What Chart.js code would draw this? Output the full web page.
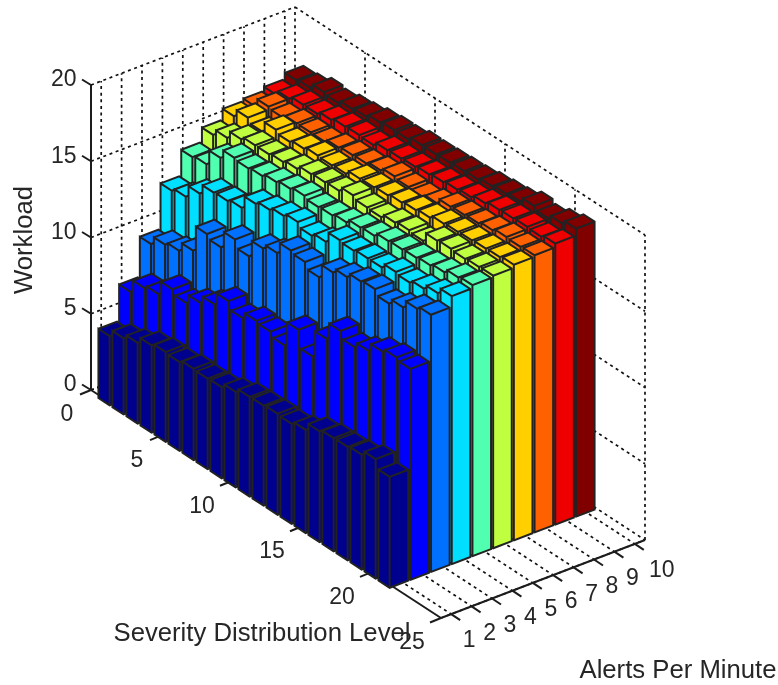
<!DOCTYPE html>
<html><head><meta charset="utf-8">
<style>html,body{margin:0;padding:0;background:#fff}canvas{display:block}</style>
<script src="https://cdn.jsdelivr.net/npm/chart.js@4"></script>
</head><body><canvas id="c" width="778" height="685"></canvas>
<script>
const alertTicks = [1,2,3,4,5,6,7,8,9,10];
const severityTicks = [0,5,10,15,20,25];
const workloadTicks = [0,5,10,15,20];
const severityLevels = [1,2,3,4,5,6,7,8,9,10,11,12,13,14,15,16,17,18,19,20,21];
const alerts1  = [4.5,4.95,5.24,5.67,5.83,5.77,5.93,5.88,5.92,6.2,6.47,6.5,6.56,6.5,6.7,7.2,7.35,7.37,7.46,7.76,7.2];
const alerts2  = [6.86,7.7,7.9,8.8,8.5,9.1,9.6,10.4,9.9,10.3,10.2,9.9,11.5,10.37,12.1,13.2,12.75,13.1,13.64,13.85,13.7];
const alerts3  = [9.45,10,10.2,10.8,12.47,12.2,13.3,12.8,13.9,14.2,14.95,14.8,14.4,15.3,15.6,15.9,16,15.65,16,16.5,16.7];
const alerts4  = [12.4,12.6,13.4,14.05,14.1,14.25,15.1,15.3,15.5,15.7,15.4,15.6,16.3,16.2,16.3,16.3,16.6,16.5,16.7,17,17.4];
const alerts5  = [14.07,14.2,15.2,15.8,15.7,15.8,16,16.15,16.3,16.15,16.2,16.35,16.6,16.66,16.9,16.95,17,17.1,17.25,17.5,17.6];
const alerts6  = [15,15.4,15.9,16.1,16.1,16.2,16.35,16.6,16.66,16.7,17,16.8,16.76,17,17.1,17,17.6,17.67,17.6,17.67,17.7];
const alerts7  = [15.7,16.2,15.9,16.6,16.4,16.55,16.7,16.65,16.7,16.97,17,17.07,17.2,17.3,17.4,17.6,17.66,17.7,17.76,17.8,17.9];
const alerts8  = [15.85,16.4,16.3,16.5,16.5,16.5,16.7,16.8,16.85,17,17.2,17.1,17.05,17.25,17.6,17.65,17.7,17.85,18,17.95,18];
const alerts9  = [16.1,16.4,16.6,16.6,16.8,16.95,17,16.95,17.2,17.25,17.3,17.4,17.5,17.6,17.7,17.9,18.06,18.1,18.15,18.1,18.25];
const alerts10 = [16.5,16.6,16.9,16.8,17,17.1,17.3,17.4,17.4,17.6,17.6,17.65,17.7,17.75,17.9,18,18.1,18.4,18.2,18.46,18.7];
const columns = [alerts1,alerts2,alerts3,alerts4,alerts5,alerts6,alerts7,alerts8,alerts9,alerts10];
const jetColors = ['#00008f','#0000ff','#0070ff','#00dfff','#50ffaf','#bfff40','#ffcf00','#ff6000','#ef0000','#800000'];

const xLim=[0.5,10.5], yLim=[0,25], zLim=[0,20];
const axisFrame={o:{x:91,y:390}, xV:{x:204,y:-78}, yV:{x:350,y:228}, zV:{x:0,y:-305}};
const barFrame={o:{x:89,y:393}, xV:{x:207,y:-79}, yV:{x:350,y:228}, zV:{x:0,y:-308}};
const barX=0.9, barY=0.8, edge='#222222', textCol='#262626';
function project(f,x,y,z){
  const a=(x-xLim[0])/(xLim[1]-xLim[0]), b=(y-yLim[0])/(yLim[1]-yLim[0]), c=(z-zLim[0])/(zLim[1]-zLim[0]);
  return {x:f.o.x+a*f.xV.x+b*f.yV.x+c*f.zV.x, y:f.o.y+a*f.xV.y+b*f.yV.y+c*f.zV.y};
}
const P=(x,y,z)=>project(axisFrame,x,y,z), B=(x,y,z)=>project(barFrame,x,y,z);
const datasets=[];
function seg(pts,opts){datasets.push(Object.assign({data:pts,showLine:true,pointRadius:0,borderWidth:1,borderColor:'#000',fill:false,tension:0,clip:false,spanGaps:true},opts));}
const dash={borderDash:[3,3.6],borderWidth:1.7,borderColor:'#111'};
// grid
alertTicks.forEach(k=>{seg([P(k,yLim[0],0),P(k,yLim[0],20),],dash);seg([P(k,0,0),P(k,25,0)],dash);});
severityTicks.forEach(k=>{seg([P(xLim[1],k,0),P(xLim[1],k,20)],dash);seg([P(xLim[0],k,0),P(xLim[1],k,0)],dash);});
workloadTicks.forEach(k=>{seg([P(xLim[0],0,k),P(xLim[1],0,k)],dash);seg([P(xLim[1],0,k),P(xLim[1],25,k)],dash);});
// axes
const axis={borderWidth:2,borderColor:'#1c1c1c'};
seg([P(xLim[0],0,0),P(xLim[0],0,20)],axis);
seg([P(xLim[0],0,0),P(xLim[0],25,0)],axis);
seg([P(xLim[0],25,0),P(xLim[1],25,0)],axis);
workloadTicks.forEach(k=>{const p=P(xLim[0],0,k);seg([p,{x:p.x-9,y:p.y-5.5}],axis);});
severityTicks.forEach(k=>{const p=P(xLim[0],k,0);seg([p,{x:p.x-11,y:p.y+4.5}],axis);});
alertTicks.forEach(k=>{const p=P(k,25,0);seg([p,{x:p.x+9,y:p.y+6}],axis);});
// bars, far to near
severityLevels.forEach((r,ri)=>{
  for(let ci=alertTicks.length-1;ci>=0;ci--){
    const c=alertTicks[ci], h=columns[ci][ri];
    const x0=c-barX/2,x1=c+barX/2,y0=r-barY/2,y1=r+barY/2;
    const LT=B(x0,y0,h),BT=B(x1,y0,h),RT=B(x1,y1,h),FT=B(x0,y1,h),RB=B(x1,y1,0),FB=B(x0,y1,0),LB=B(x0,y0,0);
    seg([LT,BT,RT,RB,FB,LB,LT,FT,RT,FT,FB,FT,LT],{fill:'shape',backgroundColor:jetColors[ci],borderColor:edge,borderWidth:2});
  }
});
datasets.reverse();
const labelsPlugin={id:'labels',afterDraw(ch){
  const ctx=ch.ctx,sx=ch.scales.x,sy=ch.scales.y;
  const T=(s,x,y,al)=>{ctx.textAlign=al||'center';ctx.textBaseline='middle';ctx.fillText(s,sx.getPixelForValue(x),sy.getPixelForValue(y));};
  ctx.save();ctx.fillStyle=textCol;ctx.font='23px "Liberation Sans"';
  workloadTicks.forEach(k=>{const p=P(xLim[0],0,k);T(String(k),p.x-14.5,p.y-5,'right');});
  severityTicks.forEach(k=>{const p=P(xLim[0],k,0);T(String(k),p.x-(k<10?24:29),p.y+25);});
  alertTicks.forEach(k=>{const p=P(k,25,0);T(String(k),p.x+(k<10?18:27),p.y+27);});
  ctx.font='25.7px "Liberation Sans"';
  T('Severity Distribution Level',262,634);
  T('Alerts Per Minute',678,671);
  ctx.translate(25,240);ctx.rotate(-Math.PI/2);ctx.fillText('Workload',0,0);
  ctx.restore();
}};
new Chart(document.getElementById('c'),{type:'scatter',data:{datasets},plugins:[labelsPlugin],options:{
  responsive:false,animation:false,events:[],
  layout:{padding:0},
  plugins:{legend:{display:false},title:{display:false},tooltip:{enabled:false}},
  scales:{x:{type:'linear',min:0,max:778,display:false},y:{type:'linear',min:0,max:685,reverse:true,display:false}}
}});
</script></body></html>
